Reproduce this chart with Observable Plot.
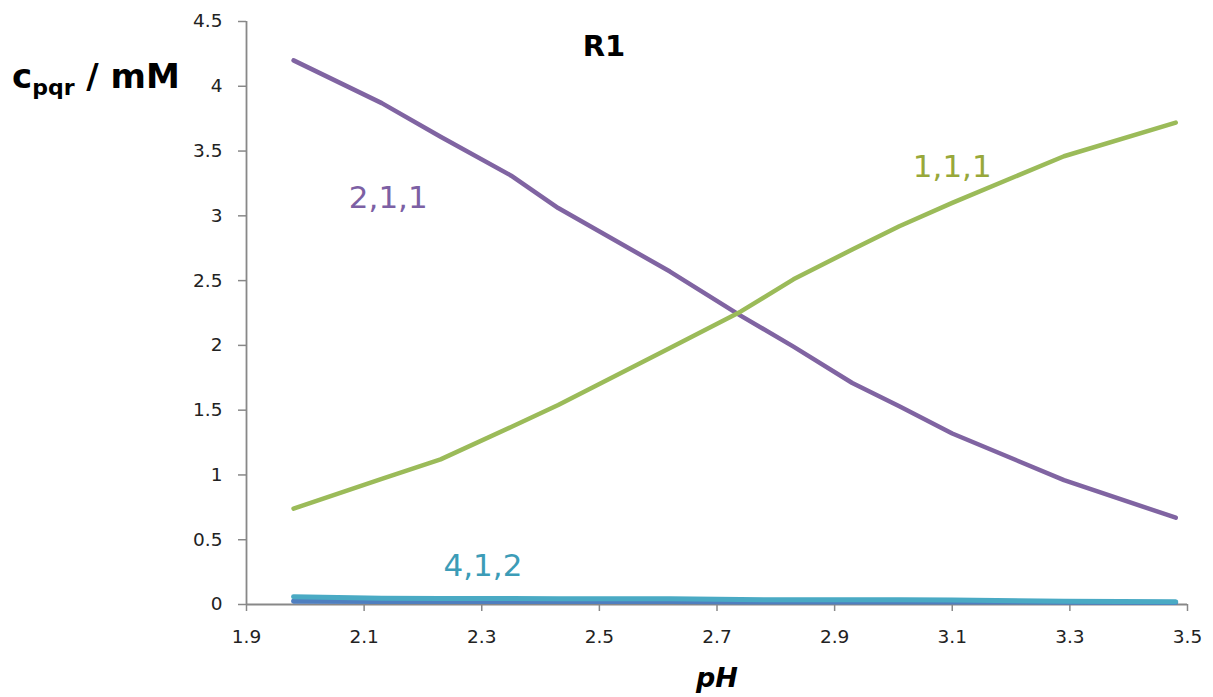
<!DOCTYPE html>
<html>
<head>
<meta charset="utf-8">
<script src="https://cdn.jsdelivr.net/npm/d3@7"></script>
<script src="https://cdn.jsdelivr.net/npm/@observablehq/plot@0.6"></script>
<style>
  html, body { margin: 0; padding: 0; background: #fff; }
  #wrap { position: relative; width: 1213px; height: 697px; font-family: "DejaVu Sans", sans-serif; }
  #ylab { position: absolute; left: 12px; top: 59px; line-height: 1; font-size: 34px; font-weight: bold; color: #000; white-space: nowrap; }
  #ylab sub { font-size: 22px; vertical-align: -7px; line-height: 0; }
</style>
</head>
<body>
<div id="wrap"><div id="ylab">c<sub>pqr</sub> / mM</div></div>
<script>
// pH values (x)
const pH = [1.98, 2.13, 2.23, 2.35, 2.43, 2.62, 2.74, 2.83, 2.93, 3.01, 3.10, 3.29, 3.48];
// concentrations (mM)
const c211 = [4.20, 3.87, 3.61, 3.31, 3.06, 2.57, 2.23, 1.99, 1.71, 1.53, 1.32, 0.96, 0.67];
const c111 = [0.74, 0.97, 1.12, 1.37, 1.54, 1.98, 2.26, 2.51, 2.74, 2.92, 3.10, 3.46, 3.72];
const c412 = [0.060, 0.048, 0.047, 0.046, 0.045, 0.045, 0.038, 0.037, 0.037, 0.036, 0.035, 0.026, 0.022];
const cMinor = [0.025, 0.024, 0.024, 0.024, 0.024, 0.024, 0.020, 0.020, 0.020, 0.020, 0.020, 0.018, 0.016];

const xTicks = [1.9, 2.1, 2.3, 2.5, 2.7, 2.9, 3.1, 3.3, 3.5];
const yTicks = [0, 0.5, 1, 1.5, 2, 2.5, 3, 3.5, 4, 4.5];

const labels = [
  {text: "2,1,1", x: 2.141, y: 3.14, color: "#7c60a4"},
  {text: "1,1,1", x: 3.100, y: 3.38, color: "#98a83a"},
  {text: "4,1,2", x: 2.302, y: 0.30, color: "#3c9cb7"}
];

const rows = (ys) => pH.map((x, i) => ({x, y: ys[i]}));

const font = "'DejaVu Sans', sans-serif";
const chart = Plot.plot({
  width: 1213,
  height: 697,
  marginLeft: 246,
  marginRight: 26,
  marginTop: 21,
  marginBottom: 93,
  style: {fontFamily: font, background: "#fff", color: "#222"},
  x: {domain: [1.9, 3.5]},
  y: {domain: [0, 4.5]},
  marks: [
    Plot.axisY(yTicks, {tickSize: 8, tickPadding: 16, fontSize: 18.5, stroke: "#888", strokeWidth: 1.5, tickFormat: d => String(d), label: null}),
    Plot.axisX(xTicks, {tickSize: 7, tickPadding: 18, fontSize: 18.5, stroke: "#888", strokeWidth: 1.5, tickFormat: d => d.toFixed(1), label: null}),
    Plot.ruleX([1.9], {stroke: "#888", strokeWidth: 1.8}),
    Plot.ruleY([0], {stroke: "#888", strokeWidth: 1.8}),
    Plot.line(rows(cMinor), {x: "x", y: "y", stroke: "#4f7fc0", strokeWidth: 5}),
    Plot.line(rows(c412), {x: "x", y: "y", stroke: "#4aaac4", strokeWidth: 5}),
    Plot.line(rows(c211), {x: "x", y: "y", stroke: "#8064a2", strokeWidth: 4.5}),
    Plot.line(rows(c111), {x: "x", y: "y", stroke: "#9bbb59", strokeWidth: 4.5}),
    Plot.text(labels, {x: "x", y: "y", text: "text", fill: d => d.color, fontSize: 31, textAnchor: "middle", lineAnchor: "middle"}),
    Plot.text(["R1"], {frameAnchor: "top", dx: -113, dy: 25, fontSize: 29, fontWeight: "bold", fill: "#000", lineAnchor: "middle"}),
    Plot.text(["pH"], {frameAnchor: "bottom", dy: 74, fontSize: 27, fontWeight: "bold", fontStyle: "italic", fill: "#000", lineAnchor: "middle"})
  ]
});
document.getElementById("wrap").appendChild(chart);
</script>
</body>
</html>
